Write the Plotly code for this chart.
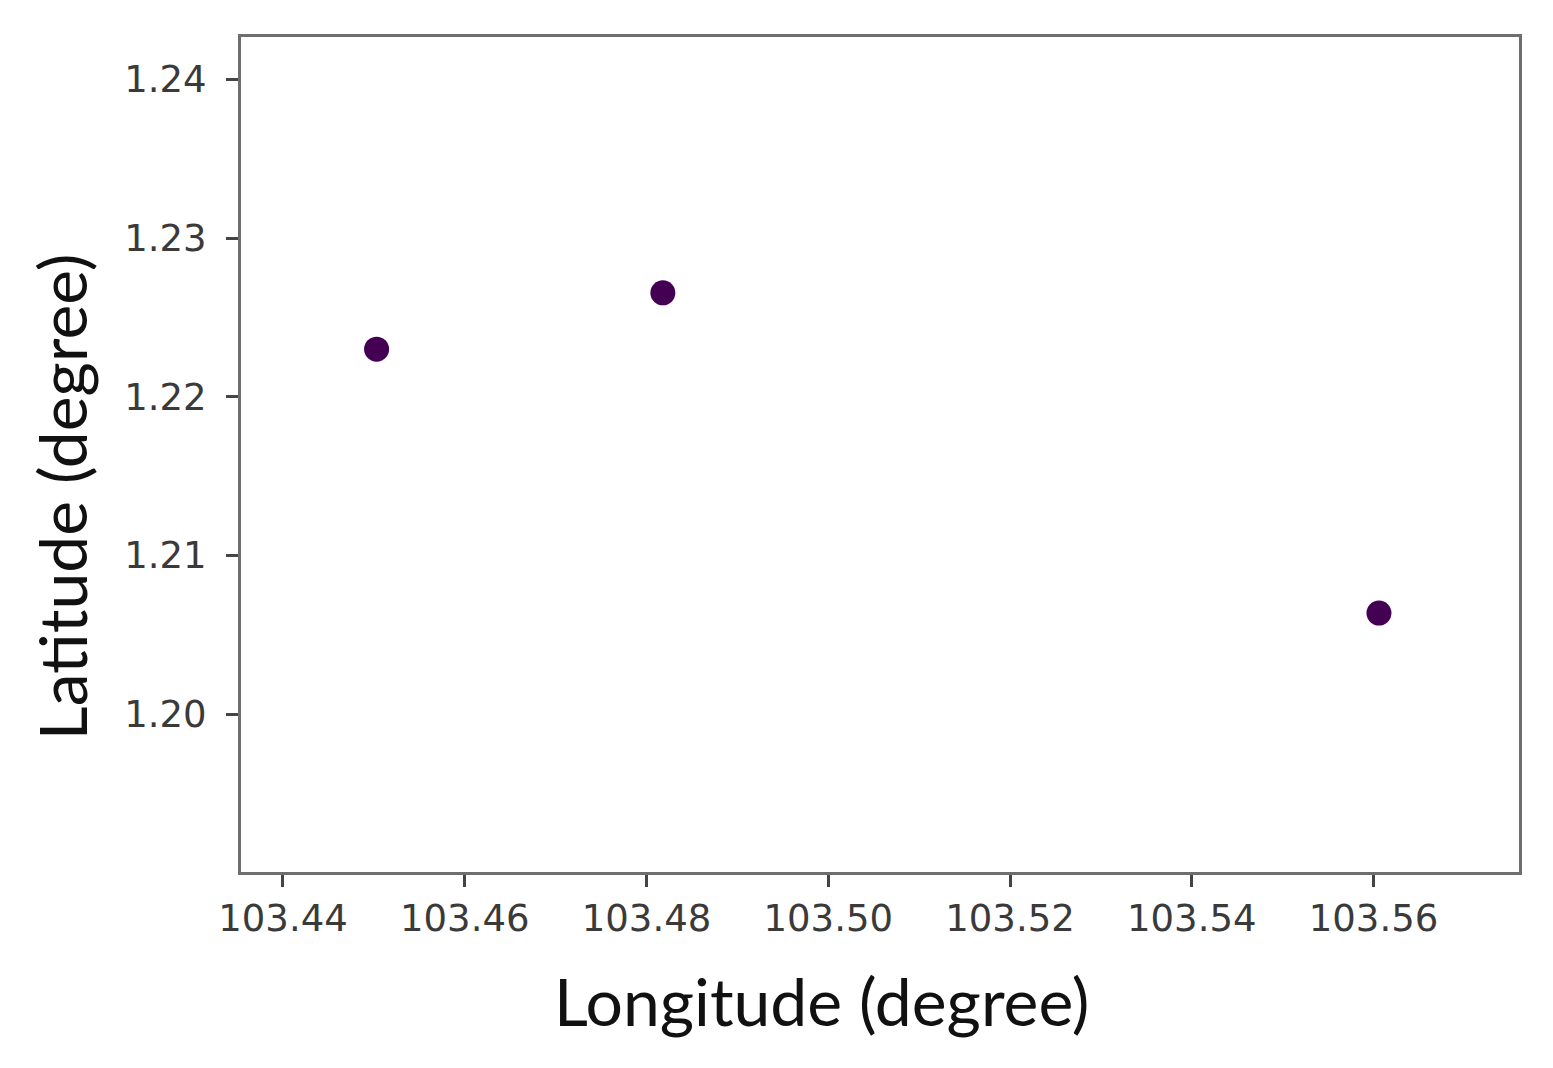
import plotly.graph_objects as go

# station positions
longitude = [103.4503, 103.4818, 103.5606]
latitude = [1.2230, 1.22655, 1.20636]

x_ticks = [103.44, 103.46, 103.48, 103.50, 103.52, 103.54, 103.56]
y_ticks = [1.20, 1.21, 1.22, 1.23, 1.24]

fig = go.Figure()
fig.add_trace(go.Scatter(
    x=longitude, y=latitude, mode="markers",
    marker=dict(color="#440154", size=25, line=dict(width=0)),
    showlegend=False,
))

axis_common = dict(
    showline=True, linecolor="#6e6e6e", linewidth=3, mirror=True,
    ticks="outside", ticklen=12, tickwidth=3, tickcolor="#444",
    showgrid=False, zeroline=False,
    tickfont=dict(family="DejaVu Sans", size=37, color="#3a3a3a"),
)

fig.update_xaxes(
    range=[103.43538, 103.57601], tickvals=x_ticks,
    ticktext=[f"{v:.2f}" for v in x_ticks],
    **axis_common,
)
fig.update_yaxes(
    range=[1.19004, 1.24268], tickvals=y_ticks,
    ticktext=[f"{v:.2f}" for v in y_ticks],
    ticklabelstandoff=12,
    **axis_common,
)

# axis titles placed as annotations (they sit off-centre in the original)
title_font = dict(family="Lato", size=66, color="#111")
fig.add_annotation(text="Longitude (degree)", xref="paper", yref="paper",
                   x=0.4546, y=-0.1533, xanchor="center", yanchor="middle",
                   showarrow=False, font=title_font)
fig.add_annotation(text="Latitude (degree)", xref="paper", yref="paper",
                   x=-0.1408, y=0.449, xanchor="center", yanchor="middle",
                   textangle=-90, showarrow=False, font=title_font)

# page body adds an 8px offset, margins compensate
fig.update_layout(
    width=1553, height=1068,
    margin=dict(l=233, r=42, t=29, b=204),
    paper_bgcolor="white", plot_bgcolor="white",
)

fig.write_html("out.html")
